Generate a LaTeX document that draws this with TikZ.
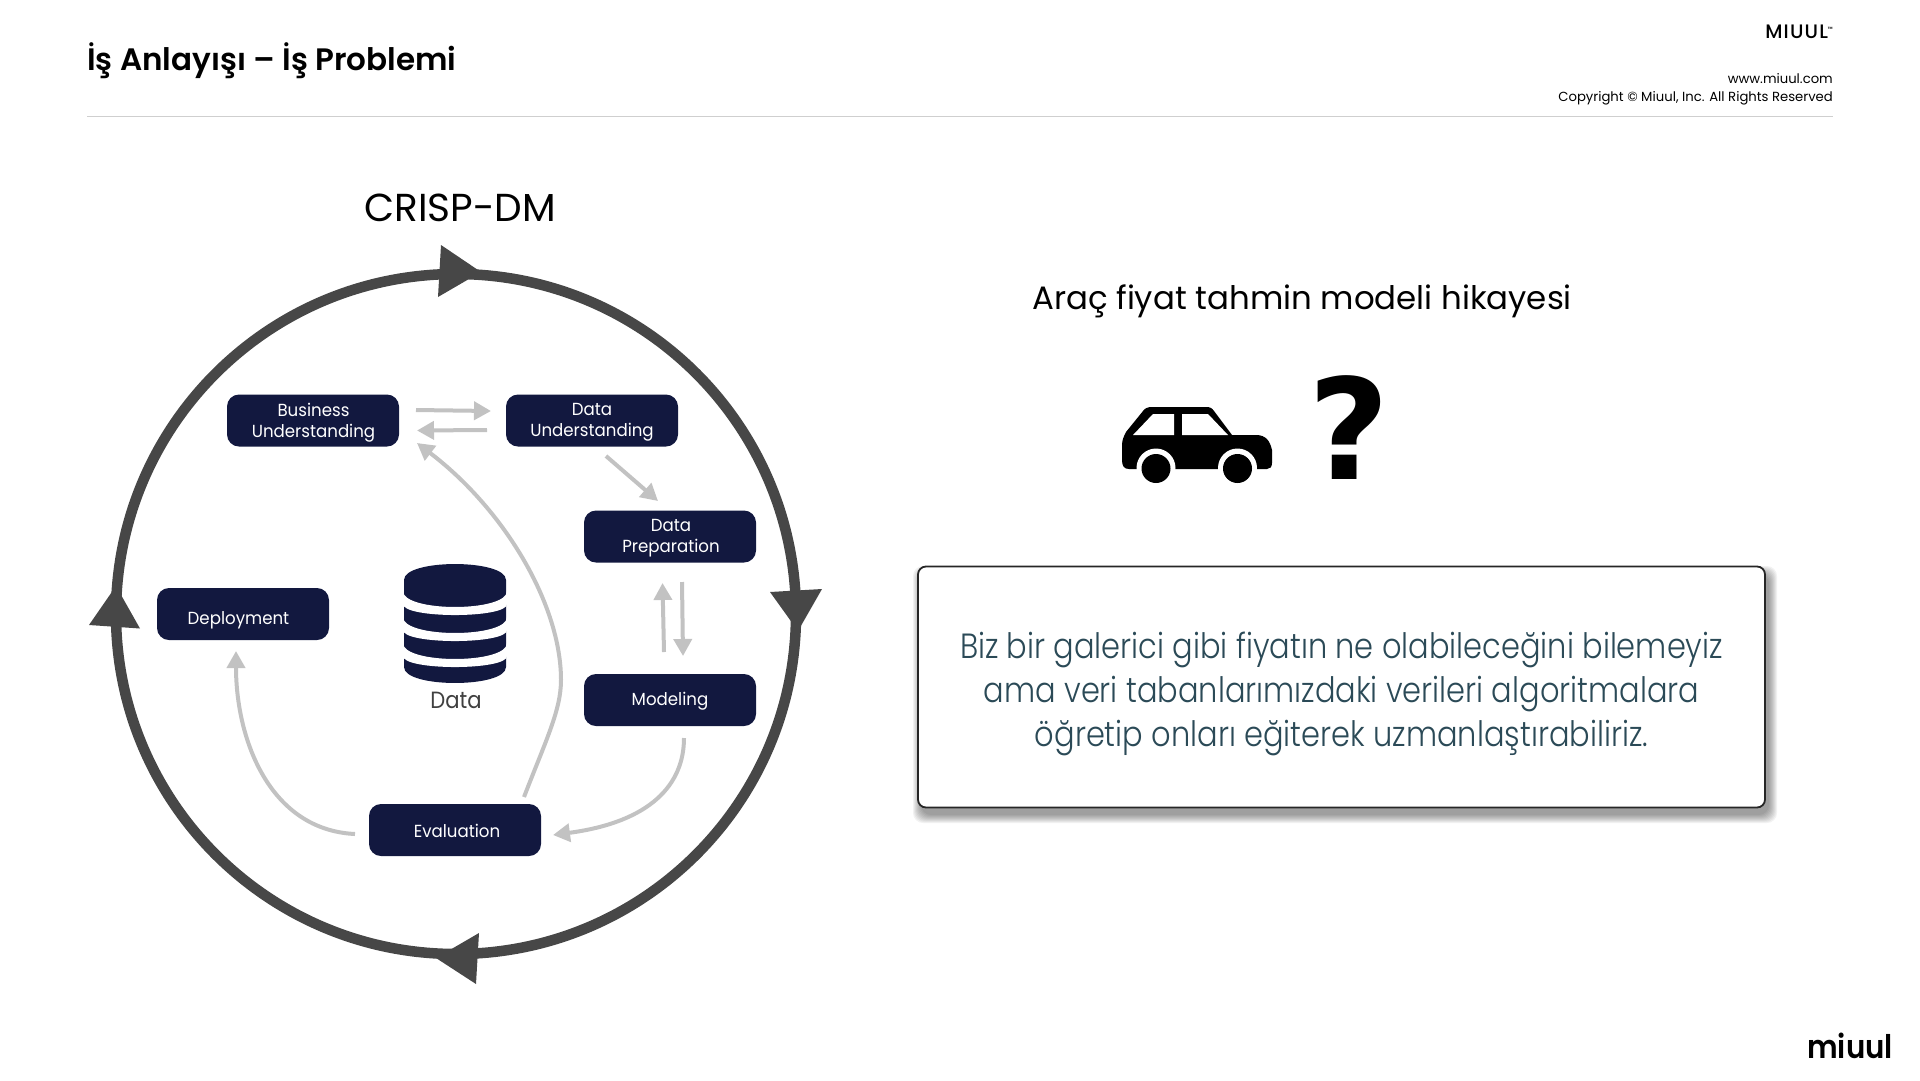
\documentclass[tikz,border=0pt]{standalone}
\usepackage{fontspec}
\setmainfont{Poppins}
\newfontfamily\bodyfont[FakeStretch=0.87]{Poppins Light}
\newfontfamily\boxfont[FakeStretch=0.95]{Poppins}
\newfontfamily\datafont[FakeStretch=0.9]{Poppins}
\newfontfamily\titlefont{Poppins SemiBold}
\newfontfamily\popmed[LetterSpace=6]{Poppins Medium}
\newfontfamily\logofont[FakeStretch=0.9]{Poppins SemiBold}
\newfontfamily\qfont{DejaVu Sans}
\usetikzlibrary{arrows.meta}
\definecolor{navy}{HTML}{12183F}
\definecolor{ringc}{HTML}{474747}
\definecolor{flow}{HTML}{C2C2C2}
\definecolor{teal}{HTML}{2B4A57}
\definecolor{rulec}{HTML}{CFCFCF}
\newcommand\boxlbl[3]{\raisebox{-#2pt}[0pt][0pt]{\makebox[0pt]{\kern#1pt\begin{tabular}[b]{@{}c@{}}#3\end{tabular}}}}
\tikzset{
  phase/.style={fill=navy,rounded corners=12pt,minimum width=172pt,minimum height=52pt,inner sep=0pt,text=white,font=\boxfont\fontsize{17.5}{20.7}\selectfont},
  flowline/.style={draw=flow,line width=4pt,-{Triangle[width=18pt,length=17pt]}},
  ringtip/.style={fill=ringc},
  txt/.style={inner sep=0pt,anchor=base west}
}
\begin{document}
\begin{tikzpicture}[x=1pt,y=-1pt]
\useasboundingbox (0,0) rectangle (1920,1080);
% header
\node[txt,font=\titlefont\fontsize{31}{36}\selectfont] (title) at (87,70.5) {İş Anlayışı – İş Problemi};
\coordinate (ruleL) at (87,116.5); \coordinate (ruleR) at (1833,116.5);
\draw[rulec,line width=1.3pt] (ruleL) -- (ruleR);
\node[inner sep=0pt,anchor=base east,font=\popmed\fontsize{19.5}{20}\selectfont] (brand) at (1833,38.6) {MIUUL\raisebox{7pt}{\fontsize{6}{7}\selectfont ™}};
\node[inner sep=0pt,anchor=base east,font=\fontsize{13.2}{15}\selectfont] (web) at (1833,83) {www.miuul.com};
\node[inner sep=0pt,anchor=base east,font=\fontsize{13.2}{15}\selectfont] (copy) at (1833,101.2) {Copyright © Miuul, Inc. All Rights Reserved};
\node[inner sep=0pt,anchor=base,font=\fontsize{39}{44}\selectfont] (crisp) at (460,221) {CRISP-DM};
% ring
\coordinate (ringc) at (456,614);
\draw[ringc,line width=10.5pt] (ringc) circle[radius=340];
\fill[ringtip] (441,245) -- (481,272) -- (438,297) -- cycle;
\fill[ringtip] (770,592) -- (822,589) -- (798,631) -- cycle;
\fill[ringtip] (479,933) -- (436,958) -- (476,984) -- cycle;
\fill[ringtip] (116,586) -- (140,628.5) -- (89,625) -- cycle;
% phases
\node[phase] (bu) at (313,420.5) {\boxlbl{1}{16.5}{Business\\Understanding}};
\node[phase] (du) at (592,420.5) {\boxlbl{0}{15.5}{Data\\Understanding}};
\node[phase] (dp) at (670,536.5) {\boxlbl{2}{15.5}{Data\\Preparation}};
\node[phase] (mo) at (670,700) {\boxlbl{0}{5.5}{Modeling}};
\node[phase] (ev) at (455,830) {\boxlbl{4}{7}{Evaluation}};
\node[phase] (de) at (243,614) {\boxlbl{-9}{10}{Deployment}};
% database
\fill[navy] (404,580) .. controls (404,558.7) and (506,558.7) .. (506,580) -- (506,667) .. controls (506,688.3) and (404,688.3) .. (404,667) -- cycle;
\foreach \k in {0,26,52}{
  \fill[white] (403,591+\k) .. controls (403,612.3+\k) and (507,612.3+\k) .. (507,591+\k) -- (507,604+\k) .. controls (507,618.7+\k) and (403,618.7+\k) .. (403,604+\k) -- cycle;
}
\node[inner sep=0pt,anchor=base,text=ringc!90!black,font=\datafont\fontsize{23.5}{26}\selectfont] (datal) at (456,708) {Data};
% flows
\coordinate (a1) at (416,410); \coordinate (a2) at (491,411);
\coordinate (b1) at (487,430); \coordinate (b2) at (417,430.5);
\coordinate (c1) at (606,456); \coordinate (c2) at (658,501);
\coordinate (d1) at (664,652); \coordinate (d2) at (662.5,583);
\coordinate (e1) at (682,582); \coordinate (e2) at (683,656);
\coordinate (f1) at (684,738); \coordinate (f2) at (553,835);
\coordinate (g1) at (355,834); \coordinate (g2) at (236,651);
\coordinate (h1) at (524,797); \coordinate (h2) at (417,443);
\draw[flowline] (a1) -- (a2);
\draw[flowline] (b1) -- (b2);
\draw[flowline] (c1) -- (c2);
\draw[flowline] (d1) -- (d2);
\draw[flowline] (e1) -- (e2);
\draw[flowline] (f1) .. controls (684,785) and (650,822) .. (f2);
\draw[flowline] (g1) .. controls (270,830) and (236,740) .. (g2);
\draw[flowline] (h1) .. controls (546,740) and (561,710) .. (561,680) .. controls (561,605) and (505,510) .. (h2);
% right side
\node[txt,font=\fontsize{32.4}{36}\selectfont] (story) at (1032,309) {Araç fiyat tahmin modeli hikayesi};
% car
\fill[black] (1122,445) .. controls (1122,440) and (1124,436) .. (1126,432) -- (1143,411) .. controls (1145,408) and (1148,407) .. (1152,407) -- (1206,407) .. controls (1210,407) and (1212,408) .. (1214,411) -- (1232,435) -- (1256,435) .. controls (1266,435) and (1270,441) .. (1272,450) -- (1272,463) .. controls (1272,467) and (1270,469) .. (1267,469) -- (1129,469) .. controls (1124,469) and (1122,466) .. (1122,460) -- cycle;
\fill[white] (1133,435) -- (1153,414) -- (1174,414) -- (1174,435) -- cycle;
\fill[white] (1182,414) -- (1208,414) -- (1228,435) -- (1182,435) -- cycle;
\fill[white] (1156,468) circle[radius=19.5];
\fill[white] (1237.5,468) circle[radius=19.5];
\fill[black] (1156,468.5) circle[radius=14.5];
\fill[black] (1237.5,468.5) circle[radius=14.5];
\node[inner sep=0pt,anchor=base,font=\qfont\bfseries\fontsize{140}{150}\selectfont] (qm) at (1349,479) {?};
% message
\foreach \s in {8,...,0}{
  \fill[black,opacity=.05,rounded corners=10pt] ({921-\s},{574-\s}) rectangle ({1769+\s},{815+\s});
}
\node[draw=black!85,fill=white,line width=1.8pt,rounded corners=8pt,minimum width=847pt,minimum height=241pt,inner sep=0pt,text=teal,align=center,font=\bodyfont\fontsize{35}{44}\selectfont] (msg) at (1341.5,687) {\raisebox{-13pt}[0pt][0pt]{\makebox[0pt]{\begin{tabular}{@{}c@{}}Biz bir galerici gibi fiyatın ne olabileceğini bilemeyiz\\ama veri tabanlarımızdaki verileri algoritmalara\\öğretip onları eğiterek uzmanlaştırabiliriz.\end{tabular}}}};
\node[inner sep=0pt,anchor=base east,font=\logofont\fontsize{32.5}{36}\selectfont] (logo) at (1893,1058) {miuul};
\end{tikzpicture}
\end{document}
